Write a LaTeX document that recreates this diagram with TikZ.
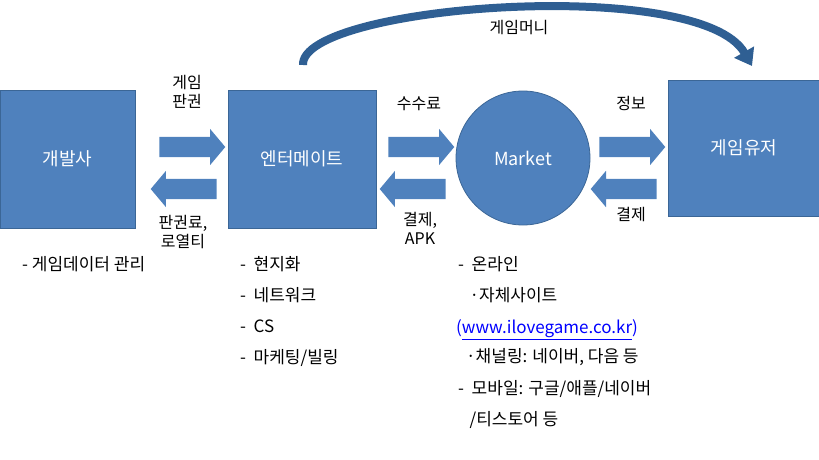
\documentclass[tikz,border=0pt]{standalone}
\usepackage{fontspec}
\setmainfont{Noto Sans CJK KR}
\usetikzlibrary{shapes.arrows,arrows.meta}
\definecolor{bx}{HTML}{4F81BD}
\definecolor{bxd}{HTML}{3B6696}
\definecolor{cv}{HTML}{2F5F93}
\begin{document}
\begin{tikzpicture}[x=1pt,y=-1pt,font=\fontsize{16}{19}\selectfont,
 box/.style={fill=bx,draw=bxd,line width=0.8pt,text=white,font=\fontsize{18}{21}\selectfont},
 rar/.style={single arrow,fill=bx,draw=none,minimum width=36pt,single arrow head extend=8pt,single arrow tip angle=100,minimum height=66pt,inner sep=0pt},
 lar/.style={rar,shape border rotate=180},
 lbl/.style={align=center,inner sep=0pt},
 lst/.style={align=left,anchor=north west,inner sep=0pt,font=\fontsize{17}{31}\selectfont}]
\useasboundingbox (0,0) rectangle (819,460);
\node[box,minimum width=135pt,minimum height=138pt] (dev) at (67.5,159) {개발사};
\node[box,minimum width=148pt,minimum height=138pt] (ent) at (302,159) {엔터메이트};
\node[box,circle,minimum size=134pt] (mkt) at (523,158) {Market};
\node[box,minimum width=151pt,minimum height=136pt] (usr) at (744,148) {게임유저};
\node[rar] (a1) at (188,147) {\rule{0pt}{20pt}};
\node[lar] (a2) at (188,189) {\rule{0pt}{20pt}};
\node[rar] (a3) at (417,147) {\rule{0pt}{20pt}};
\node[lar] (a4) at (417,189) {\rule{0pt}{20pt}};
\node[rar] (a5) at (628,147) {\rule{0pt}{20pt}};
\node[lar] (a6) at (628,189) {\rule{0pt}{20pt}};
\node[lbl] at (187,92) {게임\\판권};
\node[lbl] at (183,232) {판권료,\\로열티};
\node[lbl] at (419,104) {수수료};
\node[lbl] at (420,228) {결제,\\APK};
\node[lbl] at (631,104) {정보};
\node[lbl] at (631,215) {결제};
\node[lbl] at (519,28) {게임머니};
\coordinate (cs) at (303,65);
\coordinate (ce) at (752,66);
\draw[cv,line width=8pt,-{Triangle[length=16pt,width=22pt]}] (cs) .. controls (300,5) and (700,-25) .. (ce);
\node[lst] (l1) at (22,256) {- 게임데이터 관리};
\node[lst] (l2) at (240,256) {-\ \ 현지화\\-\ \ 네트워크\\-\ \ CS\\-\ \ 마케팅/빌링};
\node[lst] (l3) at (458,256) {-\ \ 온라인\\\ \ \ ·자체사이트};
\node[lbl,anchor=west,text=blue,font=\fontsize{17}{20}\selectfont] (url) at (456,330) {(\underline{www.ilovegame.co.kr})};
\node[lst] (l4) at (466,348) {·채널링: 네이버, 다음 등};
\node[lst] (l5) at (458,380) {-\ \ 모바일: 구글/애플/네이버\\\ \ \ /티스토어 등};
\end{tikzpicture}
\end{document}
